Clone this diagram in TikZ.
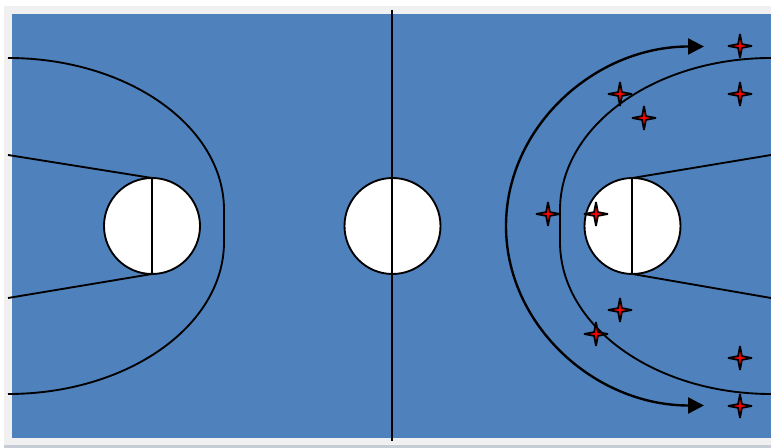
\documentclass[tikz,border=0pt]{standalone}
\usetikzlibrary{arrows.meta}
\definecolor{courtblue}{HTML}{4F81BD}
\definecolor{framegray}{HTML}{F0F0F0}
\definecolor{framelow}{HTML}{C6CCD4}
\tikzset{
  court/.style={black, line width=1.4pt},
  hoopdisc/.style={court, fill=white},
  runline/.style={black, line width=1.8pt, {Triangle[length=12pt,width=12pt]}-{Triangle[length=12pt,width=12pt]}},
  playerstar/.style={draw=black, fill=red, line width=1.3pt, miter limit=4}
}
\begin{document}
\begin{tikzpicture}[x=0.75pt, y=-0.75pt]

\useasboundingbox (0, 0) rectangle (771, 448);

%% Frame and floor
\fill[white] (0, 0) rectangle (771, 448);
\fill[framelow] (4, 445) rectangle (771, 448);
\fill[framegray] (4, 6) rectangle (771, 445.5);
\fill[courtblue] (12, 14) rectangle (771, 438.5);

%% Halfway line and circles
\foreach \cx in {152, 392.5, 632.5}{
  \draw[hoopdisc] (\cx, 226) circle[radius=48];
}
\draw[court] (392.3, 10) -- (392.3, 441);
\draw[court] (152, 178) -- (152, 274);
\draw[court] (632.2, 178) -- (632.2, 274);

%% Left end
\draw[court] (8, 155) -- (152, 178);
\draw[court] (8, 298) -- (152, 274);
\draw[court] (8, 58) arc[start angle=-90, end angle=0, x radius=216, y radius=152]
  -- (224, 242) arc[start angle=0, end angle=90, x radius=216, y radius=152];

%% Right end
\draw[court] (771, 155) -- (632.5, 178);
\draw[court] (771, 298) -- (632.5, 274);
\draw[court] (771, 58) arc[start angle=-90, end angle=-180, x radius=211, y radius=152]
  -- (560, 242) arc[start angle=180, end angle=90, x radius=211, y radius=152];

%% Run around the arc
\draw[runline] (704, 46.5) arc[start angle=-90, end angle=-180, x radius=198, y radius=179.5]
  arc[start angle=180, end angle=90, x radius=198, y radius=179.5];

%% Players
\foreach \px/\py in {740/46, 620/94, 644/118, 740/94, 548/214, 596/214,
                     620/310, 596/334, 740/358, 740/406}{
  \draw[playerstar] (\px+12, \py) -- (\px+1.9, \py-1.9) -- (\px, \py-12)
    -- (\px-1.9, \py-1.9) -- (\px-12, \py) -- (\px-1.9, \py+1.9)
    -- (\px, \py+12) -- (\px+1.9, \py+1.9) -- cycle;
}

\end{tikzpicture}
\end{document}
